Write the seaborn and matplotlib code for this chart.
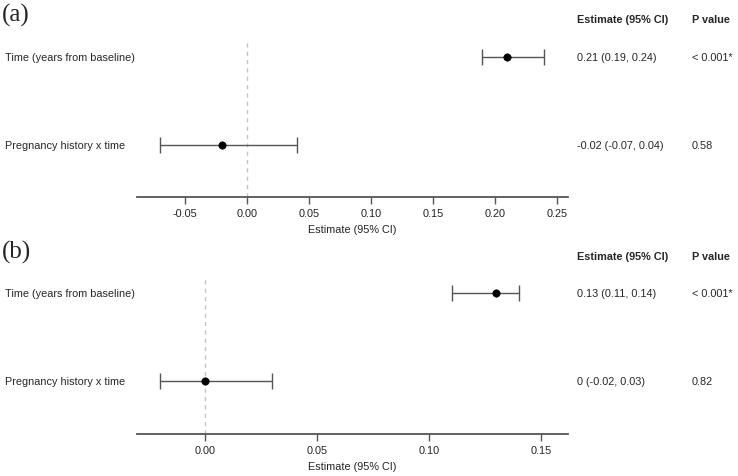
import seaborn as sns
import matplotlib.pyplot as plt
import pandas as pd

# Model estimates for both panels
terms = ['Time (years from baseline)', 'Pregnancy history x time']
est_a = [0.21, -0.02]
lo_a = [0.19, -0.07]
hi_a = [0.24, 0.04]
ci_text_a = ['0.21 (0.19, 0.24)', '-0.02 (-0.07, 0.04)']
p_text_a = ['< 0.001*', '0.58']

est_b = [0.13, 0.0]
lo_b = [0.11, -0.02]
hi_b = [0.14, 0.03]
ci_text_b = ['0.13 (0.11, 0.14)', '0 (-0.02, 0.03)']
p_text_b = ['< 0.001*', '0.82']

ticks_a = [-0.05, 0.00, 0.05, 0.10, 0.15, 0.20, 0.25]
ticks_b = [0.00, 0.05, 0.10, 0.15]

sns.set_style('white')
plt.rcParams['font.family'] = ['Liberation Sans', 'DejaVu Sans']

W, H = 738, 477
FS = 7.8
fig = plt.figure(figsize=(W / 100, H / 100), dpi=100)

GREY = '#555555'


def panel(label, est, lo, hi, ci_text, p_text, ticks, xlim, top, bottom, ylim):
    ax = fig.add_axes([137 / W, 1 - bottom / H, (568 - 137) / W, (bottom - top) / H])
    df = pd.DataFrame({'term': terms, 'est': est, 'lo': lo, 'hi': hi, 'row': [0, 1]})
    ax.axvline(0, color='#c4c4c4', linestyle='--', linewidth=1, dashes=(3, 3), zorder=0)
    ax.errorbar(df['est'], df['row'],
                xerr=[df['est'] - df['lo'], df['hi'] - df['est']],
                fmt='none', ecolor=GREY, elinewidth=1, capsize=6, capthick=1, zorder=2)
    sns.scatterplot(data=df, x='est', y='row', color='black', s=28,
                    edgecolor='black', linewidth=0.5, ax=ax, zorder=3)
    ax.set_xlim(*xlim)
    ax.set_ylim(*ylim)
    ax.set_xticks(ticks)
    ax.set_xticklabels([f'{t:.2f}' for t in ticks], fontsize=FS, color='#222222')
    ax.set_yticks([])
    ax.set_ylabel('')
    ax.set_xlabel('Estimate (95% CI)', fontsize=FS, color='#222222', labelpad=4)
    for s in ['top', 'right', 'left']:
        ax.spines[s].set_visible(False)
    ax.spines['bottom'].set_color(GREY)
    ax.spines['bottom'].set_linewidth(1.3)
    ax.tick_params(axis='x', bottom=True, length=5, width=1, color=GREY, pad=3)

    row_px = [top + (r - ylim[1]) / (ylim[0] - ylim[1]) * (bottom - top) for r in [0, 1]]
    fig.text(2 / W, 1 - (top - 26) / H, label, fontsize=18, family='Liberation Serif',
             va='center', ha='left')
    fig.text(577 / W, 1 - (top - 21) / H, 'Estimate (95% CI)', fontsize=FS,
             fontweight='bold', va='center', ha='left')
    fig.text(692 / W, 1 - (top - 21) / H, 'P value', fontsize=FS,
             fontweight='bold', va='center', ha='left')
    for i, y in enumerate(row_px):
        fig.text(5 / W, 1 - y / H, terms[i], fontsize=FS, va='center', ha='left')
        fig.text(577 / W, 1 - y / H, ci_text[i], fontsize=FS, va='center', ha='left')
        fig.text(692 / W, 1 - y / H, p_text[i], fontsize=FS, va='center', ha='left')
    return ax


panel('(a)', est_a, lo_a, hi_a, ci_text_a, p_text_a, ticks_a,
      (-0.0887, 0.259), 41, 198, (1.59, -0.195))
panel('(b)', est_b, lo_b, hi_b, ci_text_b, p_text_b, ticks_b,
      (-0.0304, 0.162), 278, 435, (1.60, -0.182))

fig.savefig('out.png', dpi=100)
